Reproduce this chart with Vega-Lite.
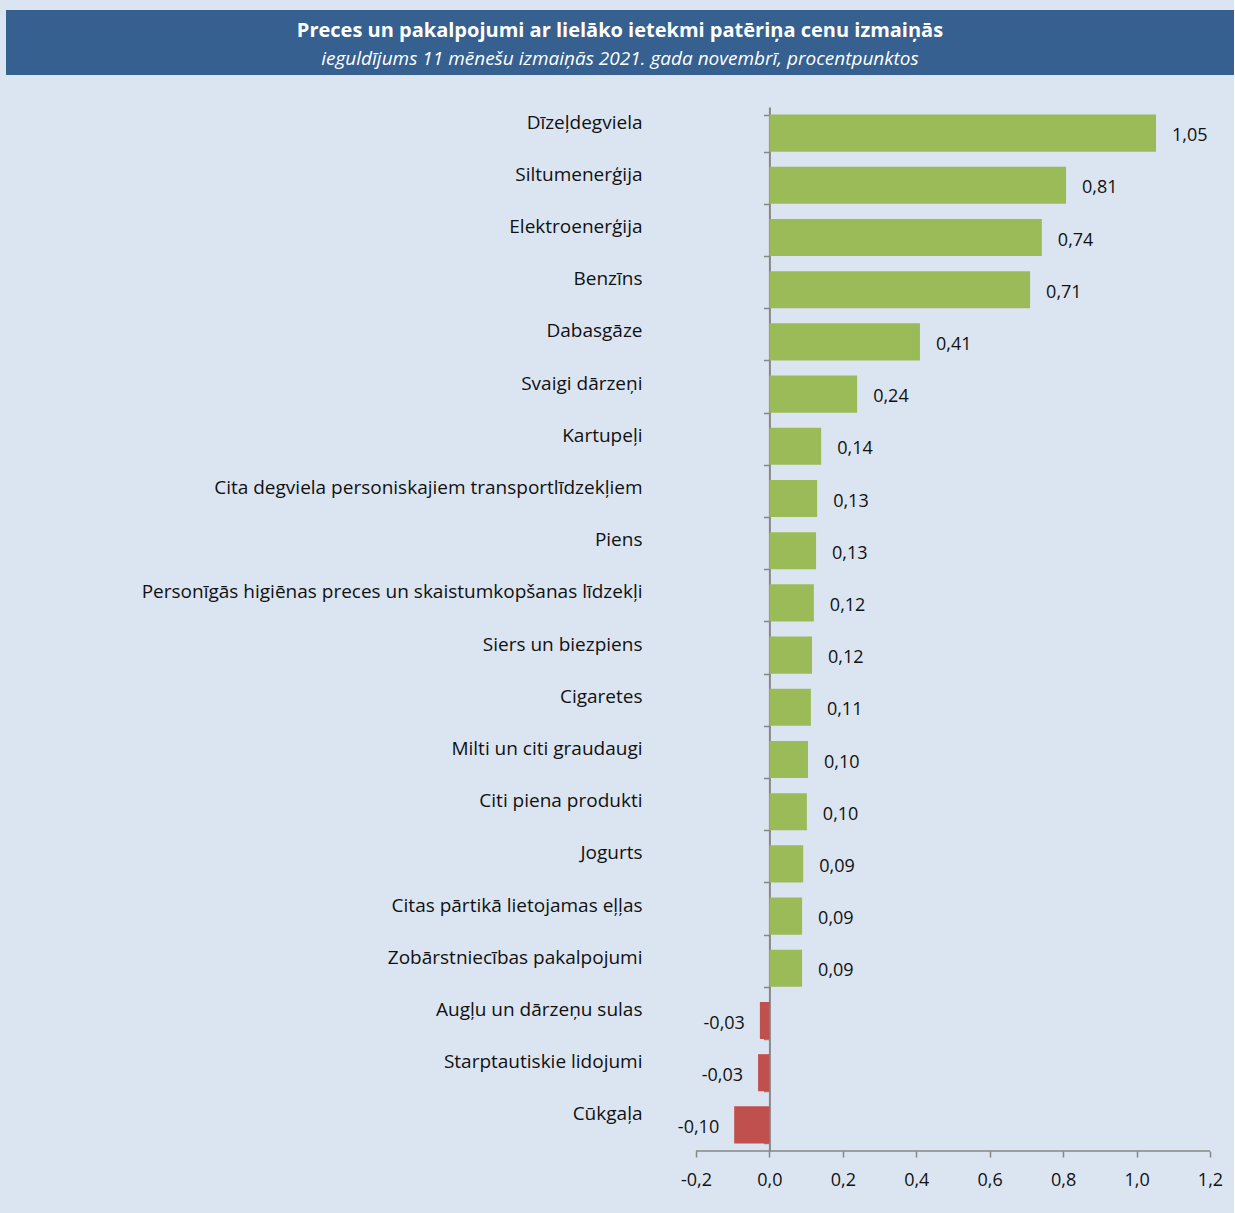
{
  "$schema": "https://vega.github.io/schema/vega-lite/v6.json",
  "background": "#dbe5f1",
  "padding": {"left": 6, "top": 10, "right": 0, "bottom": 24},
  "spacing": 23,
  "config": {
    "view": {"stroke": null},
    "font": "Open Sans"
  },
  "vconcat": [
    {
      "width": 1228,
      "height": 65,
      "view": {"fill": "#35608f", "stroke": null},
      "data": {"values": [{"t": "Preces un pakalpojumi ar lielāko ietekmi patēriņa cenu izmaiņās", "s": "ieguldījums 11 mēnešu izmaiņās 2021. gada novembrī, procentpunktos"}]},
      "layer": [
        {"mark": {"type": "text", "font": "Open Sans", "fontSize": 20, "fontWeight": "bold", "color": "white", "baseline": "middle", "dy": -12}, "encoding": {"text": {"field": "t"}}},
        {"mark": {"type": "text", "font": "Open Sans", "fontSize": 19, "fontStyle": "italic", "color": "white", "baseline": "middle", "dy": 16}, "encoding": {"text": {"field": "s"}}}
      ]
    },
    {
      "width": 1228,
      "height": 1044,
      "data": {"values": [
        {"cat": "Dīzeļdegviela", "v": 1.053, "lbl": "1,05"},
        {"cat": "Siltumenerģija", "v": 0.808, "lbl": "0,81"},
        {"cat": "Elektroenerģija", "v": 0.742, "lbl": "0,74"},
        {"cat": "Benzīns", "v": 0.71, "lbl": "0,71"},
        {"cat": "Dabasgāze", "v": 0.41, "lbl": "0,41"},
        {"cat": "Svaigi dārzeņi", "v": 0.239, "lbl": "0,24"},
        {"cat": "Kartupeļi", "v": 0.141, "lbl": "0,14"},
        {"cat": "Cita degviela personiskajiem transportlīdzekļiem", "v": 0.13, "lbl": "0,13"},
        {"cat": "Piens", "v": 0.127, "lbl": "0,13"},
        {"cat": "Personīgās higiēnas preces un skaistumkopšanas līdzekļi", "v": 0.121, "lbl": "0,12"},
        {"cat": "Siers un biezpiens", "v": 0.116, "lbl": "0,12"},
        {"cat": "Cigaretes", "v": 0.113, "lbl": "0,11"},
        {"cat": "Milti un citi graudaugi", "v": 0.105, "lbl": "0,10"},
        {"cat": "Citi piena produkti", "v": 0.102, "lbl": "0,10"},
        {"cat": "Jogurts", "v": 0.092, "lbl": "0,09"},
        {"cat": "Citas pārtikā lietojamas eļļas", "v": 0.089, "lbl": "0,09"},
        {"cat": "Zobārstniecības pakalpojumi", "v": 0.089, "lbl": "0,09"},
        {"cat": "Augļu un dārzeņu sulas", "v": -0.026, "lbl": "-0,03"},
        {"cat": "Starptautiskie lidojumi", "v": -0.031, "lbl": "-0,03"},
        {"cat": "Cūkgaļa", "v": -0.096, "lbl": "-0,10"}
      ]},
      "encoding": {
        "y": {
          "field": "cat", "type": "nominal", "sort": null,
          "scale": {"paddingInner": 0.29, "paddingOuter": 0.145},
          "axis": {
            "offset": -763.4,
            "domainColor": "#868686", "domainWidth": 2,
            "tickColor": "#868686", "tickWidth": 1.5, "tickSize": 6, "tickBand": "extent",
            "labelFont": "Open Sans", "labelFontSize": 19, "labelColor": "#111111",
            "labelPadding": 121.4, "labelOffset": -11, "labelLimit": 700,
            "title": null
          }
        },
        "x": {
          "field": "v", "type": "quantitative",
          "scale": {"domain": [-2.0794, 1.2654], "nice": false, "zero": false},
          "axis": {
            "values": [-0.2, 0, 0.2, 0.4, 0.6, 0.8, 1.0, 1.2],
            "labelExpr": "replace(replace(format(datum.value, '.1f'), '.', ','), '\u2212', '-')",
            "grid": false, "title": null, "domain": false,
            "tickColor": "#868686", "tickWidth": 1.5, "tickSize": 6,
            "labelFont": "Open Sans", "labelFontSize": 18, "labelColor": "#111111",
            "labelPadding": 14, "labelFlush": false
          }
        }
      },
      "layer": [
        {
          "mark": {"type": "bar"},
          "encoding": {
            "color": {"condition": {"test": "datum.v < 0", "value": "#c0504d"}, "value": "#9bbb59"}
          }
        },
        {
          "data": {"values": [{"a": -0.2, "b": 1.2}]},
          "mark": {"type": "rule", "color": "#868686", "strokeWidth": 1.5},
          "encoding": {
            "x": {"field": "a", "type": "quantitative"},
            "x2": {"field": "b"},
            "y": {"value": "height"}
          }
        },
        {
          "transform": [{"filter": "datum.v >= 0"}],
          "mark": {"type": "text", "align": "left", "baseline": "middle", "dx": 16, "dy": 3, "fontSize": 18, "font": "Open Sans", "color": "#111111"},
          "encoding": {"text": {"field": "lbl"}}
        },
        {
          "transform": [{"filter": "datum.v < 0"}],
          "mark": {"type": "text", "align": "right", "baseline": "middle", "dx": -15, "dy": 3, "fontSize": 18, "font": "Open Sans", "color": "#111111"},
          "encoding": {"text": {"field": "lbl"}}
        }
      ]
    }
  ]
}
